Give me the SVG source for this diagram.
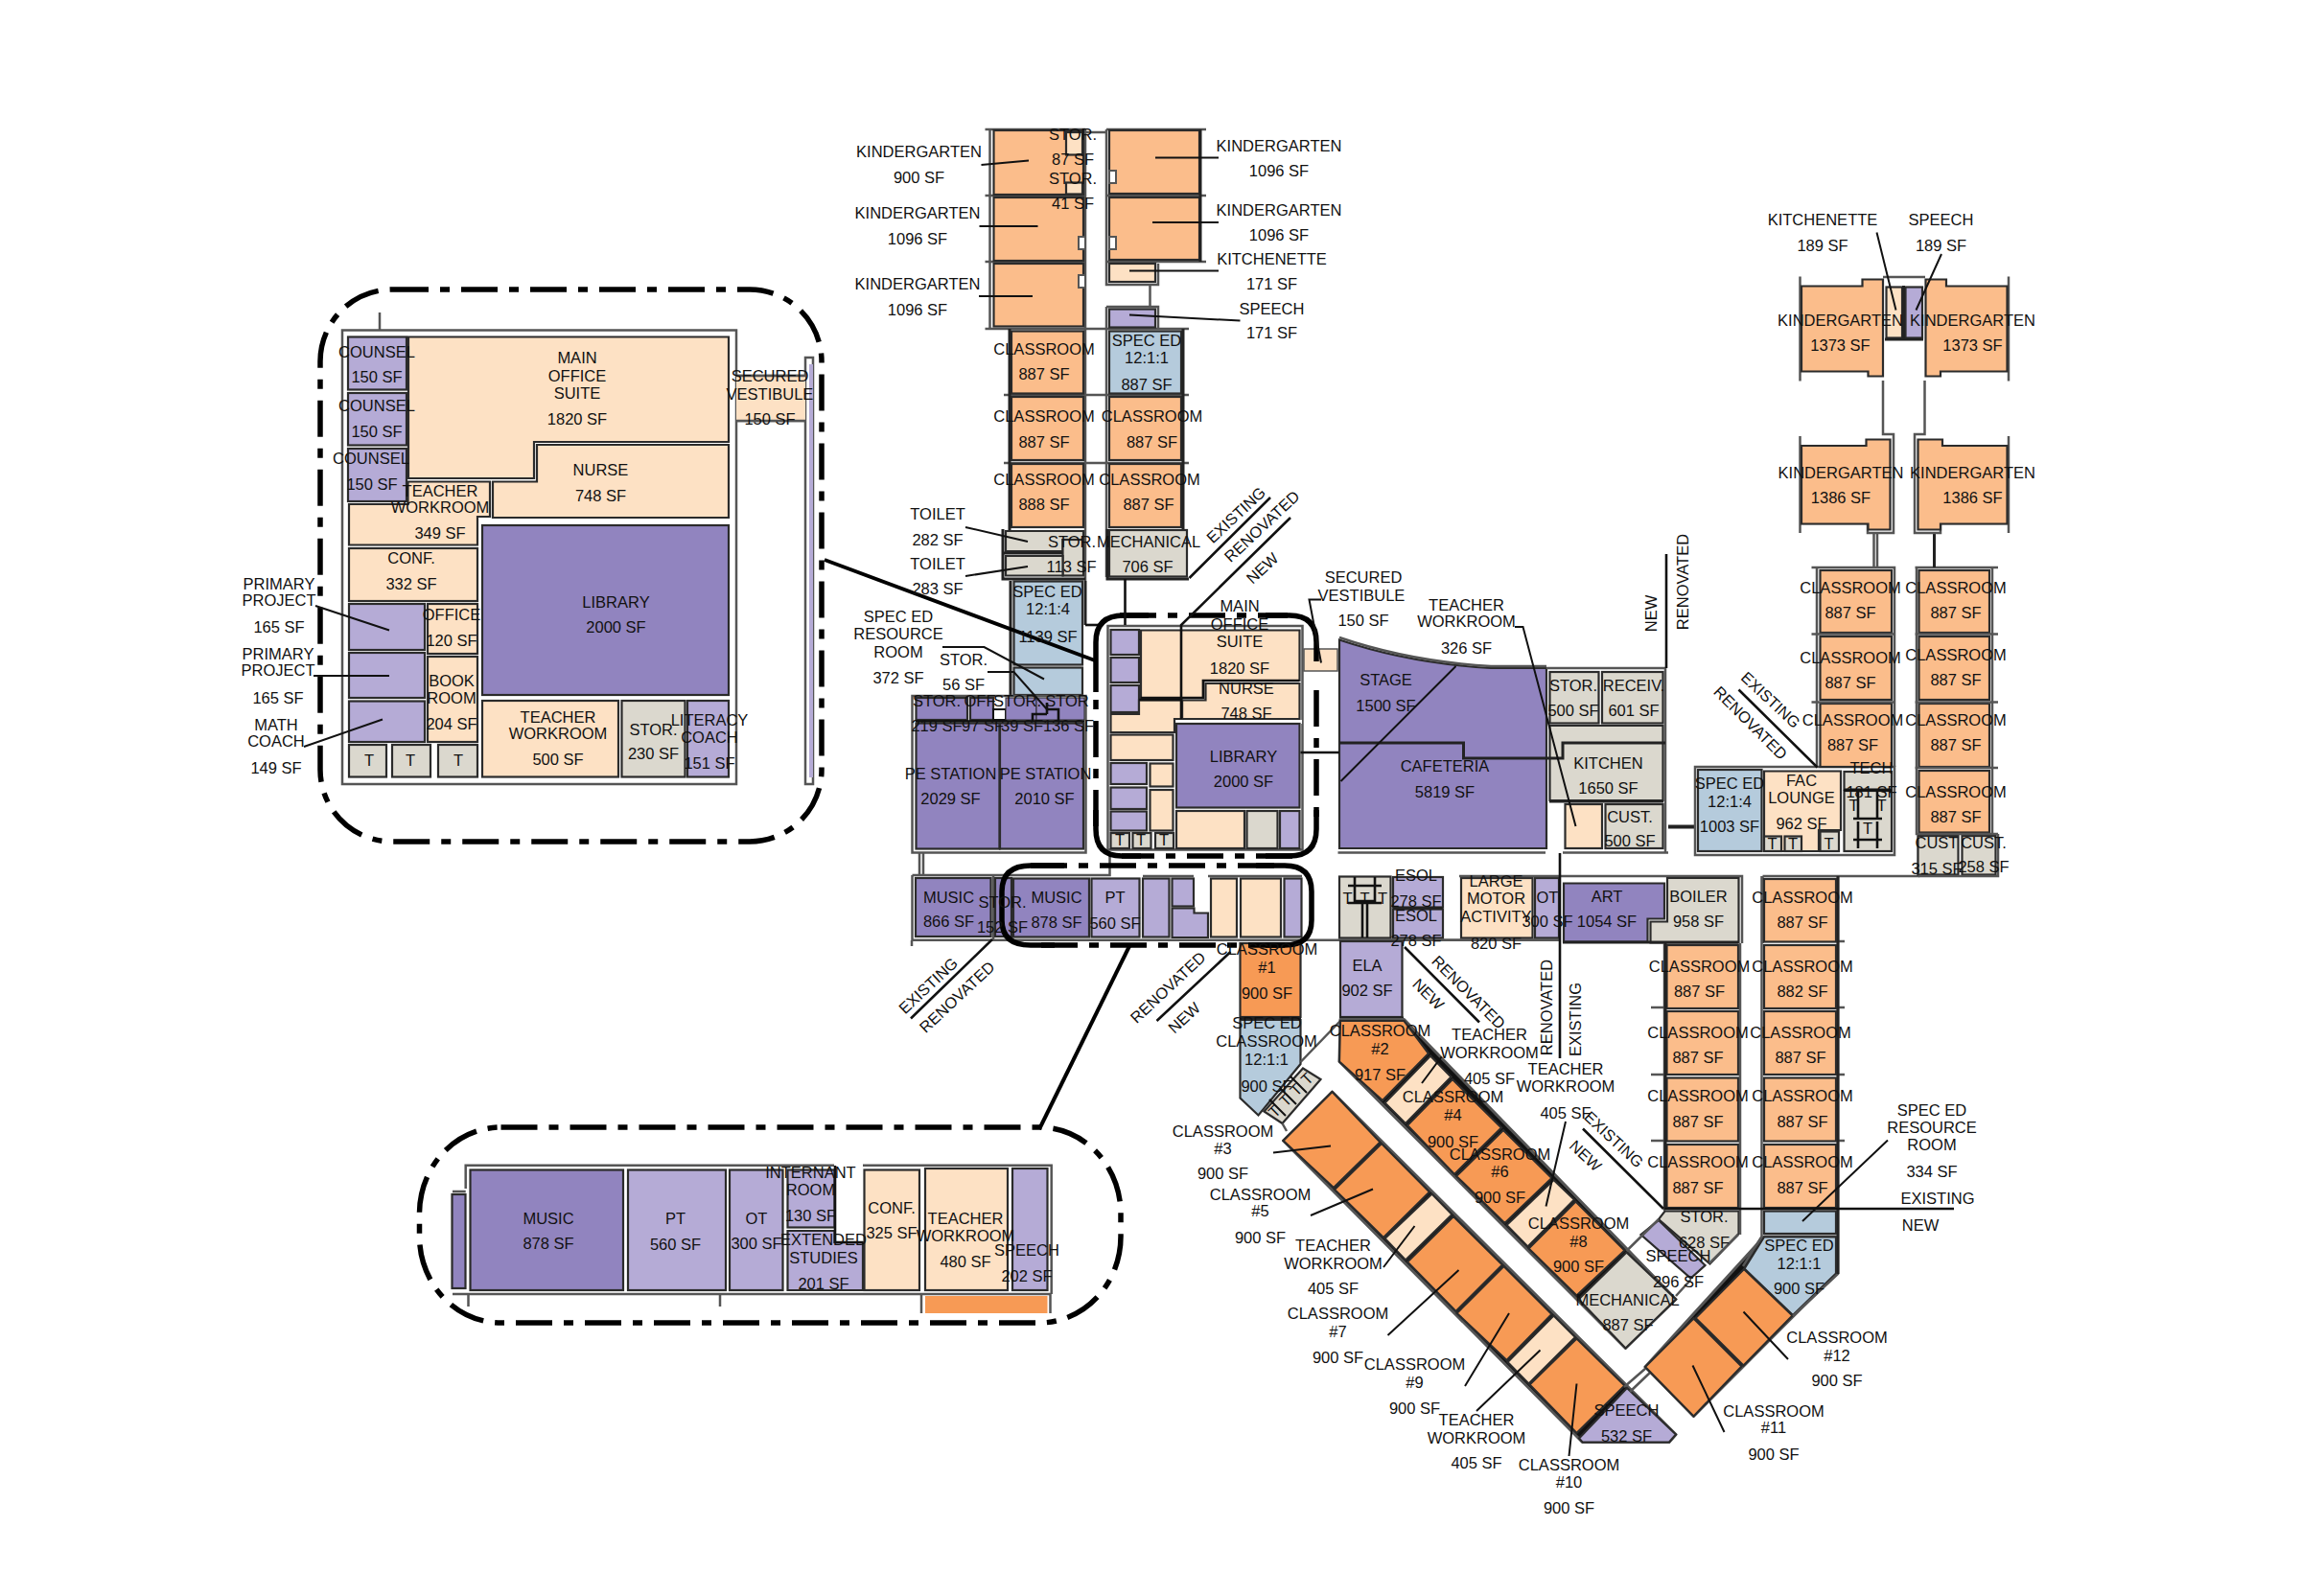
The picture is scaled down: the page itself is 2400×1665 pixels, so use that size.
<svg xmlns="http://www.w3.org/2000/svg" width="2400" height="1665" viewBox="0 0 2400 1665">
<style>
text{font-family:"Liberation Sans",Arial,sans-serif;font-size:16.5px;fill:#111;text-anchor:middle}
.k,.d,.p,.pd,.pl,.b,.g{stroke:#2b2b2b;stroke-width:2.2}
.k{fill:#FBBD8B}.d{fill:#F79A55}.p{fill:#FDE1C4}.pd{fill:#9184BF}.pl{fill:#B5ABD6}.b{fill:#B5CBDC}.g{fill:#DBD8CE}
.w{fill:none;stroke:#555;stroke-width:2.5}
.x{fill:none;stroke:#222;stroke-width:3}
.l{fill:none;stroke:#111;stroke-width:2}
.m{fill:none;stroke:#111;stroke-width:2.6}
.dash{fill:none;stroke:#000;stroke-width:5.5;stroke-dasharray:38 12 10 12}
.solid{fill:none;stroke:#000;stroke-width:5.5}
.hole{fill:#fff;stroke:#555;stroke-width:2}
.base{fill:#111;stroke:#555;stroke-width:3;stroke-linejoin:round}
</style>
<rect width="2400" height="1665" fill="#fff"/>

<g id="inset-main-office">
<rect class="dash" x="334" y="302" width="523" height="576" rx="75" ry="75"/>
<rect class="w" x="357" y="344.5" width="411" height="473.5"/>
<path class="w" d="M396 326V344.5M768 392H840M768 439H840M840 373H848V818H840Z"/>
<rect x="844" y="380" width="4" height="431" fill="#B5ABD6"/>
<rect class="pl" x="363" y="351.5" width="61" height="55"/>
<rect class="pl" x="363" y="410" width="61" height="54.5"/>
<rect class="pl" x="363" y="468" width="61" height="55"/>
<polygon class="p" points="426,351.5 760,351.5 760,461 557,461 557,499 426,499"/>
<polygon class="p" points="560,464 760,464 760,540 514,540 514,502.5 560,502.5"/>
<polygon class="p" points="364,526 425.5,526 425.5,502.5 511,502.5 511,539 498,539 498,568.5 364,568.5"/>
<rect class="p" x="364" y="572" width="134" height="55"/>
<rect class="pd" x="503" y="548" width="257" height="177"/>
<rect class="p" x="503" y="731" width="142" height="79.5"/>
<rect class="g" x="648.5" y="731" width="66" height="79.5"/>
<rect class="pl" x="717" y="731" width="43" height="79.5"/>
<rect class="pl" x="364" y="630" width="79" height="48"/>
<rect class="pl" x="364" y="681" width="79" height="47"/>
<rect class="pl" x="364" y="731.5" width="79" height="42.5"/>
<rect class="p" x="446" y="630" width="52" height="52"/>
<rect class="p" x="446" y="685" width="52" height="89"/>
<rect class="g" x="364" y="777" width="39" height="33.5"/>
<rect class="g" x="409" y="777" width="40" height="33.5"/>
<rect class="g" x="457" y="777" width="41" height="33.5"/>
<rect class="p" x="768" y="392" width="72" height="47" style="stroke:none"/>
<path class="w" d="M768 392H840M768 439H840"/>
<path class="l" d="M329 632L406 657.5M327 705H406M317 779L399 750.5"/>
<text x="393" y="373">COUNSEL</text><text x="393" y="399">150 SF</text>
<text x="393" y="429">COUNSEL</text><text x="393" y="455.5">150 SF</text>
<text x="387" y="484">COUNSEL</text><text x="388" y="510.5">150 SF</text>
<text x="602" y="379">MAIN</text><text x="602" y="397.5">OFFICE</text><text x="602" y="415.5">SUITE</text><text x="602" y="443">1820 SF</text>
<text x="626.5" y="496">NURSE</text><text x="626.5" y="523">748 SF</text>
<text x="459" y="517.5">TEACHER</text><text x="459" y="535">WORKROOM</text><text x="459" y="562">349 SF</text>
<text x="429" y="588">CONF.</text><text x="429" y="614.5">332 SF</text>
<text x="471" y="647">OFFICE</text><text x="471" y="674">120 SF</text>
<text x="471" y="715.5">BOOK</text><text x="471" y="733.5">ROOM</text><text x="471" y="761">204 SF</text>
<text x="642.5" y="634">LIBRARY</text><text x="642.5" y="660">2000 SF</text>
<text x="582" y="753.5">TEACHER</text><text x="582" y="771">WORKROOM</text><text x="582" y="798">500 SF</text>
<text x="681.5" y="766.5">STOR.</text><text x="681.5" y="792">230 SF</text>
<text x="740" y="757">LITERACY</text><text x="740" y="775">COACH</text><text x="740" y="802">151 SF</text>
<text x="385" y="799">T</text><text x="428" y="799">T</text><text x="478" y="799">T</text>
<text x="803" y="398">SECURED</text><text x="803" y="416.5">VESTIBULE</text><text x="803" y="443">150 SF</text>
<text x="291" y="614.5">PRIMARY</text><text x="291" y="632">PROJECT</text><text x="291" y="659.5">165 SF</text>
<text x="290" y="688">PRIMARY</text><text x="290" y="705">PROJECT</text><text x="290" y="734">165 SF</text>
<text x="288" y="761.5">MATH</text><text x="288" y="779">COACH</text><text x="288" y="806.5">149 SF</text>
</g>

<g id="inset-music-wing">
<rect class="dash" x="437.5" y="1176" width="731.5" height="204" rx="85" ry="90"/>
<path class="w" d="M472 1350H961V1370M961 1350H1096M1095.5 1350V1370M488.5 1350V1363M751 1350V1363M485.7 1240V1215.7H870M900 1215.7H1096.7V1350M472 1243H485.7"/>
<rect class="pd" x="471.5" y="1246" width="14" height="98"/>
<rect class="pd" x="490.5" y="1220.5" width="159.5" height="125.5"/>
<rect class="pl" x="655" y="1220.5" width="102" height="125.5"/>
<rect class="pl" x="761" y="1220.5" width="55.5" height="125.5"/>
<rect class="pl" x="821.5" y="1220.5" width="49" height="60"/>
<polygon class="pl" points="821.5,1284 870.5,1284 870.5,1296 900,1296 900,1346 821.5,1346"/>
<rect class="p" x="901.5" y="1220.5" width="57.5" height="125.5"/>
<rect class="p" x="965" y="1219" width="86" height="127"/>
<rect class="pl" x="1056" y="1219" width="36.5" height="127"/>
<rect class="d" x="965" y="1352" width="127.5" height="18" style="stroke-width:0"/>
<path class="m" d="M871 1216V1296H900"/>
<text x="572" y="1276.5">MUSIC</text><text x="572" y="1302.5">878 SF</text>
<text x="704.5" y="1277">PT</text><text x="704.5" y="1304">560 SF</text>
<text x="789" y="1277">OT</text><text x="789" y="1302.5">300 SF</text>
<text x="845.5" y="1229">INTERNANT</text><text x="845.5" y="1247">ROOM</text><text x="845.5" y="1274">130 SF</text>
<text x="859" y="1299">EXTENDED</text><text x="859" y="1317.5">STUDIES</text><text x="859" y="1345">201 SF</text>
<text x="930" y="1265.5">CONF.</text><text x="930" y="1291.5">325 SF</text>
<text x="1007" y="1276.5">TEACHER</text><text x="1007" y="1295">WORKROOM</text><text x="1007" y="1322">480 SF</text>
<text x="1071" y="1310">SPEECH</text><text x="1071" y="1336.5">202 SF</text>
</g>

<g id="north-wing">
<path class="w" d="M1027.5 135H1132M1027.5 204H1132M1027.5 273H1132M1027.5 343H1132M1032.5 135V343M1132 135V606M1132 138H1154M1154 135V297H1208V275M1154 320V602M1154 135H1258M1154 204H1258M1154 273H1258M1199.5 296V320M1154 320H1208V343M1047 343H1240M1047 412H1240M1047 483H1240"/>
<rect class="k" x="1036.5" y="136" width="93.5" height="67"/>
<rect class="k" x="1036.5" y="206" width="93.5" height="66"/>
<rect class="k" x="1036.5" y="275" width="93.5" height="65.5"/>
<rect class="p" x="1112" y="138" width="17" height="23.5"/>
<rect class="p" x="1112" y="190.5" width="17" height="12"/>
<rect class="k" x="1157" y="136" width="94" height="66"/>
<rect class="k" x="1157" y="206" width="94" height="65"/>
<rect class="hole" x="1125" y="247" width="7" height="13"/>
<rect class="hole" x="1125" y="287" width="7" height="13"/>
<rect class="hole" x="1157" y="178" width="7" height="13"/>
<rect class="hole" x="1157" y="247" width="7" height="13"/>
<rect class="p" x="1157" y="275" width="48" height="19"/>
<rect class="pl" x="1157" y="322.5" width="48" height="19"/>
<rect class="k" x="1055" y="345.5" width="75" height="65"/>
<rect class="k" x="1055" y="414" width="75" height="66"/>
<rect class="k" x="1055" y="484" width="75" height="66"/>
<rect class="b" x="1157" y="345.5" width="75" height="65"/>
<rect class="k" x="1157" y="414" width="75" height="66"/>
<rect class="k" x="1157" y="484" width="75" height="66"/>
<path class="x" d="M1252 135V273M1234 343V553M1053 343V553"/>
<rect class="g" x="1157" y="553" width="81" height="48.5"/>
<polygon class="g" points="1049,554 1130,554 1130,563 1108.5,563 1108.5,575 1049,575"/>
<rect class="g" x="1108.5" y="563" width="21.5" height="37.5"/>
<polygon class="g" points="1049,580 1108.5,580 1108.5,600.5 1049,600.5"/>
<path class="x" d="M1046 552V604H1132M1046 577H1108M1155 552V604H1240"/>
<rect class="b" x="1057.5" y="606.5" width="71.5" height="87"/>
<rect class="b" x="1057.5" y="696.5" width="71.5" height="28.5"/>
<path class="x" d="M1054 606V726M1132 606V652"/>
<path class="m" d="M1132 652H1146"/>
</g>

<g id="pe-music">
<path class="w" d="M951.5 726H1132.5V889.5H951.5ZM959 889.5V913M963 889.5V913M951.5 913H1157.5V893M951.5 913V981M951 981V987M1036 913V981"/>
<path class="w" d="M951 980.7H1627.5M1192 914H1245M1260 914H1358"/>
<rect class="pd" x="955.5" y="728" width="53.5" height="23"/>
<rect class="pd" x="1012" y="728" width="24" height="23"/>
<rect x="1036" y="740" width="13" height="11" fill="#fff" stroke="#111" stroke-width="2"/>
<rect class="pd" x="1049" y="728" width="32" height="23" style="stroke-width:1"/>
<rect class="pd" x="1081" y="728" width="50" height="23" style="stroke-width:1"/>
<path class="m" d="M955 752.5H1131M1077 752V745H1092M1092 745V733M1104 752V740H1092"/>
<rect class="pd" x="955.5" y="754.5" width="87" height="131"/>
<rect class="pd" x="1043" y="754.5" width="87" height="131"/>
<rect class="pd" x="955" y="916" width="78.5" height="61"/>
<rect class="pd" x="1038" y="916" width="17" height="61"/>
<rect class="pd" x="1057" y="916.5" width="79" height="61"/>
<rect class="pl" x="1138.5" y="916.5" width="50" height="61"/>
<rect class="pl" x="1192" y="916.5" width="27.5" height="61"/>
<rect class="pl" x="1222.5" y="916.5" width="22.5" height="29"/>
<polygon class="pl" points="1222.5,947.5 1245.5,947.5 1245.5,952.5 1260,952.5 1260,978 1222.5,978"/>
<rect class="p" x="1263" y="916.5" width="27" height="61"/>
<rect class="p" x="1294" y="916.5" width="42" height="61"/>
<rect class="pl" x="1339.5" y="916.5" width="18" height="61"/>
</g>

<g id="central-block">
<rect class="w" x="1155.5" y="653" width="203" height="233.5"/>
<rect class="pl" x="1158.5" y="657" width="29.5" height="26"/>
<rect class="pl" x="1158.5" y="686" width="29.5" height="26"/>
<rect class="pl" x="1158.5" y="715" width="29.5" height="28"/>
<polygon class="p" points="1190,657.5 1355.5,657.5 1355.5,710 1255,710 1255,728 1190,728"/>
<polygon class="p" points="1257.5,713 1355.5,713 1355.5,750 1233,750 1233,730.5 1257.5,730.5"/>
<text x="1300" y="750">748 SF</text>
<rect x="1225" y="751" width="133" height="4" fill="#fff"/>
<polygon class="p" points="1158.5,745 1188,745 1188,730.5 1233,730.5 1233,750 1225,750 1225,764 1158.5,764"/>
<rect class="p" x="1158.5" y="766.5" width="65" height="26.5"/>
<rect class="pd" x="1227" y="755" width="128.5" height="87.5"/>
<rect class="pl" x="1158.5" y="796" width="37.5" height="22"/>
<rect class="pl" x="1158.5" y="821.5" width="37.5" height="22.5"/>
<rect class="pl" x="1158.5" y="846.5" width="37.5" height="20"/>
<rect class="p" x="1199.5" y="796.5" width="24" height="24"/>
<rect class="p" x="1199.5" y="824" width="24" height="42.5"/>
<rect class="g" x="1158.5" y="869" width="19.5" height="16"/>
<rect class="g" x="1181.5" y="869" width="19" height="16"/>
<rect class="g" x="1205" y="869" width="19" height="16"/>
<rect class="p" x="1227" y="846" width="71" height="39"/>
<rect class="g" x="1300.5" y="846" width="32" height="39"/>
<rect class="pl" x="1335" y="846" width="20.5" height="39"/>
<path class="m" d="M1190 728H1255V710H1355M1188 730H1233"/>
</g>

<g id="assembly-service">
<rect x="1360" y="677" width="35" height="23" fill="#FDE1C4" stroke="#555" stroke-width="1.5"/>
<path class="pd" d="M1397 667.5Q1470 692 1555 697H1613V885H1397Z"/>
<path class="w" d="M1397 665Q1470 690 1555 695H1613M1613 697H1737V890M1395.5 889.5H1612M1630 889.5H1740"/>
<polygon class="g" points="1616.5,757 1734.5,757 1734.5,835 1616.5,835"/>
<rect class="g" x="1616.5" y="701" width="51" height="53.5"/>
<rect class="g" x="1671" y="701" width="63.5" height="53.5"/>
<rect class="p" x="1632.5" y="839" width="38.5" height="46"/>
<rect class="g" x="1674.5" y="839" width="60" height="46"/>
<path class="x" d="M1397 775H1526.5V791H1630V775H1737"/>
<path class="x" d="M1616 836H1735"/>
<path class="m" d="M1356.5 785H1397"/>
<path class="x" d="M1740 862.5H1768" style="stroke-width:4"/>
</g>

<g id="west-row">
<rect class="g" x="1397" y="914.5" width="53.5" height="64"/>
<path class="m" d="M1413 915V940H1434V915M1406 924H1441M1406 942H1441M1421 942V978M1426 942V978"/>
<rect class="pl" x="1453" y="915" width="52" height="31.5"/>
<rect class="pl" x="1453" y="948.5" width="52" height="30"/>
<path class="x" d="M1453 947.5H1505"/>
<rect class="p" x="1524" y="916" width="74.5" height="62.5"/>
<rect class="pl" x="1601" y="916" width="25" height="62.5"/>
<path class="w" d="M1522 914H1817V984M1838.5 914H1917.8H2001V872M1838.5 914V984"/>
<polygon class="pd" points="1631,921.5 1736,921.5 1736,958.5 1718.5,958.5 1718.5,982.5 1631,982.5"/>
<polygon class="g" points="1739,916 1813.5,916 1813.5,983.5 1721.5,983.5 1721.5,961.5 1739,961.5"/>
<path class="x" d="M1630 983H1813"/>
<path class="w" d="M1397 980.7H1627"/>
</g>

<g id="east-wing">
<rect class="w" x="1768" y="800" width="208" height="92"/>
<rect class="b" x="1771" y="803" width="66.5" height="85"/>
<polygon class="p" points="1840,804.5 1920,804.5 1920,866 1897,866 1897,888 1840,888"/>
<rect class="g" x="1840" y="872.5" width="18" height="15.5"/>
<rect class="g" x="1861.5" y="872.5" width="17.5" height="15.5"/>
<rect class="g" x="1898.5" y="867.5" width="19.5" height="20.5"/>
<rect class="g" x="1923.5" y="805" width="49.5" height="18.5"/>
<rect class="g" x="1923.5" y="825" width="49.5" height="63"/>
<path class="m" d="M1923 824.5H1973M1938 857V885M1958 857V885M1933 854H1963M1933 876H1963M1938 825V854M1958 825V854"/>
<rect class="k" x="1898.5" y="595" width="74.5" height="65"/>
<rect class="k" x="1898.5" y="664" width="74.5" height="66"/>
<rect class="k" x="1898.5" y="734" width="74.5" height="66"/>
<rect class="k" x="2001.5" y="595" width="73.5" height="65"/>
<rect class="k" x="2001.5" y="664" width="73.5" height="66"/>
<rect class="k" x="2001.5" y="734" width="73.5" height="66"/>
<rect class="k" x="2001.5" y="804" width="73.5" height="64.5"/>
<rect class="g" x="2000.5" y="872" width="42" height="40.5"/>
<rect class="g" x="2046.5" y="872" width="35" height="40.5"/>
<path class="w" d="M1889.5 592H1976V800M1895 592V800M1997.5 592H2084M1997.5 661.5H2084M1997.5 732.5H2084M1997.5 801H2084M1889.5 661.5H1976M1889.5 732.5H1976M1999 592V870H2084M2078 592V870M2084 870V914H2001"/>
<path class="w" d="M1954.5 556V592M1958 556V592"/>
<path class="x" d="M2017.5 556V592"/>
<path class="w" d="M1877.5 288.5V397.5M2095 288.5V397.5M1877.5 455V556M2095 455V556M1964 397V453H1975V556H1948V546H1877.5M2007.5 397V453H1997V556H2024V546H2095M1964 289H2008"/>
<polygon class="k" points="1879,298.5 1942.5,298.5 1942.5,291.5 1964,291.5 1964,392.5 1948.5,392.5 1948.5,387.5 1879,387.5"/>
<polygon class="k" points="2093.5,298.5 2030,298.5 2030,291.5 2008.5,291.5 2008.5,392.5 2024,392.5 2024,387.5 2093.5,387.5"/>
<rect class="p" x="1967.5" y="299.5" width="16.5" height="53"/>
<rect class="pl" x="1987.5" y="299.5" width="17.5" height="53"/>
<path class="x" d="M1966 354H2006M1985.5 298V354"/>
<polygon class="k" points="1879,465 1946.5,465 1946.5,458.5 1971.5,458.5 1971.5,552.5 1948.5,552.5 1948.5,546.5 1879,546.5"/>
<polygon class="k" points="2093.5,465 2026,465 2026,458.5 2000.5,458.5 2000.5,552.5 2024,552.5 2024,546.5 2093.5,546.5"/>
</g>

<g id="south-wings">
<rect class="d" x="1293.5" y="984" width="63" height="77"/>
<polygon class="b" points="1293.5,1064 1356.5,1064 1356.5,1110 1312.5,1163.5 1293.5,1145.5"/>
<polygon class="g" points="1359,1114.5 1377.5,1126 1337.5,1172 1318.5,1159.5"/>
<path class="l" d="M1346 1123L1363 1140M1335 1135L1352 1152M1324 1147L1341 1164"/>
<rect class="pl" x="1398" y="982" width="64.5" height="79"/>
<path class="x" d="M1293 1062H1357M1397.5 1062H1464"/>
<path class="w" d="M1356.5 1108L1398 1065M1337.5 1172L1342 1180"/>

<polygon class="base" points="1389.5,1139 1748,1496.5 1741,1504.5 1650.5,1504.5 1338.5,1190"/>
<polygon class="d" points="1389.5,1139 1439.5,1191.5 1391,1239 1338.5,1190"/>
<polygon class="d" points="1441,1193 1491,1243.5 1443,1291 1392,1241"/>
<polygon class="p" points="1493.5,1245.5 1514.5,1267 1466,1314.5 1444.5,1292"/>
<polygon class="d" points="1516,1269 1567,1319.5 1518.5,1368 1468,1316.5"/>
<polygon class="d" points="1568.5,1321 1618.5,1371 1571.5,1419 1519.5,1370"/>
<polygon class="p" points="1620.5,1372.5 1643,1395 1594.5,1443.5 1572.5,1421"/>
<polygon class="d" points="1644.5,1396.5 1694.5,1445.5 1644.5,1495 1595.5,1444.5"/>
<polygon class="pl" points="1697,1448 1748,1496.5 1741,1504.5 1650.5,1504.5 1647,1500.5"/>

<polygon class="base" points="1398,1063.5 1464.5,1063.5 1748,1355.5 1695.5,1406.5 1397,1107.5"/>
<polygon class="d" points="1398,1065 1464.5,1065 1490,1099 1442,1148 1397,1107.5"/>
<polygon class="p" points="1492,1101.5 1513.5,1123.5 1466,1172 1444.5,1150.5"/>
<polygon class="d" points="1515,1126 1566,1176.5 1517,1225 1468,1174"/>
<polygon class="d" points="1568,1179 1618.5,1229 1569.5,1276 1519,1227"/>
<polygon class="p" points="1620.5,1231 1642,1251.5 1593.5,1300.5 1571.5,1278"/>
<polygon class="d" points="1643.5,1253.5 1694.5,1304.5 1644.5,1351.5 1594.5,1302.5"/>
<polygon class="g" points="1696.5,1306.5 1748,1355.5 1695.5,1406.5 1646.5,1355.5"/>

<polygon class="g" points="1736.5,1263.5 1813.5,1263.5 1813.5,1287 1783.5,1318.5 1730,1272"/>
<polygon class="pl" points="1730,1273 1778.5,1320 1763.5,1333.5 1711.5,1288"/>
<path class="w" d="M1696.5 1305L1730 1272M1748 1352L1763.5 1335M1694 1447L1717 1427M1700 1452L1722 1431M1815 1263V1288"/>

<rect class="k" x="1738.5" y="986" width="74.5" height="66"/>
<rect class="k" x="1738.5" y="1055" width="74.5" height="66"/>
<rect class="k" x="1738.5" y="1124.5" width="74.5" height="66"/>
<rect class="k" x="1738.5" y="1194" width="74.5" height="66"/>
<rect class="k" x="1840" y="917" width="75" height="65.5"/>
<rect class="k" x="1840" y="986" width="75" height="66"/>
<rect class="k" x="1840" y="1055" width="75" height="66"/>
<rect class="k" x="1840" y="1124.5" width="75" height="66"/>
<rect class="k" x="1840" y="1194" width="75" height="66"/>
<rect class="b" x="1840" y="1263.5" width="75" height="23.5"/>
<polygon class="base" points="1840,1290 1915,1290 1915,1328.5 1766.5,1477.5 1716,1426"/>
<polygon class="b" points="1840,1290.5 1915,1290.5 1915,1328.5 1870,1372 1819.5,1323.5"/>
<polygon class="d" points="1819,1324 1869.5,1372.5 1818.5,1424.5 1768.5,1375"/>
<polygon class="d" points="1766.5,1375.5 1816.5,1425.5 1766.5,1477.5 1716,1426"/>
<path class="w" d="M1736 984V1263M1815 984V1263M1837.5 914V1290L1818 1321M1917 914V1329L1870 1373M1722 1051H1736M1722 1121H1736M1722 1190H1736M1916 982H1924M1916 1051H1924M1916 1121H1924M1916 1190H1924M1813 1288L1783 1318"/>
<path class="x" d="M1917 914V1329M1737 984V1262"/>
</g>

<g id="connectors">
<path class="dash" d="M1168 642H1343M1373 720V862M1348 893H1170M1143 862V720"/>
<path class="solid" d="M1143 722V670Q1143 642 1172 642H1198M1320 642H1345Q1373 642 1373 670V690M1373 845V865Q1373 893 1345 893H1320M1190 893H1170Q1143 893 1143 865V845"/>
<path class="dash" d="M1075 903H1340M1340 986H1075"/>
<path class="solid" d="M1110 903H1075Q1045 903 1045 930V960Q1045 986 1075 986H1100M1310 903H1340Q1368 903 1368 930V960Q1368 986 1340 986H1320"/>
<path class="solid" d="M860 584L1142 689" style="stroke-width:4"/>
<path class="solid" d="M1178 987L1084 1178" style="stroke-width:4"/>
<path class="l" d="M1023.5 172L1073 167.5M1021.5 236H1082.5M1021 309H1077M1205 164.5H1271M1202 232H1271M1178 282.5H1271M1178 328.5L1293.5 334.5"/>
<path class="l" d="M1007 550L1072 565M1007 601L1072 591M983 675H1026.5L1089 708.5M1030 701H1057.5L1092 740"/>
<path class="m" d="M1240.5 603L1325 519M1346 540L1232 652V750M1173.5 604V652"/>
<path class="l" d="M1378 625.5H1365.5L1378 691.5M1580 654H1588.5L1643.5 862M1518.5 695L1398.5 815"/>
<path class="m" d="M1738 578V697M1627 890V1104M1813.5 719.5L1895.5 800.5"/>
<path class="l" d="M1957.5 242.5L1977.5 323.5M2025 265L1998.5 323.5"/>
<path class="m" d="M950 1062.5L1035 980M1206.5 1065L1283.5 993M1465 988L1543 1066.5M1651 1177.5L1735 1261M1736.5 1261H2038"/>
<path class="l" d="M1880 1274L1969 1189.5M1818.5 1368.5L1865 1418M1765.5 1424.5L1798.5 1494"/>
<path class="l" d="M1328 1202.5L1388 1195.5M1367 1268L1432 1240.5M1443 1322L1475.5 1279M1447.5 1393L1521.5 1325M1528 1446L1574 1370M1540 1472L1606.5 1408.5M1636.5 1519L1644.5 1443.5M1503.5 1102.5L1483 1130M1633 1170L1612.5 1258.5"/>
</g>

<g id="labels">
<text x="958.5" y="164">KINDERGARTEN</text><text x="958.5" y="191">900 SF</text>
<text x="957" y="228">KINDERGARTEN</text><text x="957" y="255">1096 SF</text>
<text x="957" y="302">KINDERGARTEN</text><text x="957" y="328.5">1096 SF</text>
<text x="1334" y="157.5">KINDERGARTEN</text><text x="1334" y="184">1096 SF</text>
<text x="1334" y="225">KINDERGARTEN</text><text x="1334" y="251">1096 SF</text>
<text x="1326.5" y="276">KITCHENETTE</text><text x="1326.5" y="302">171 SF</text>
<text x="1326.5" y="327.5">SPEECH</text><text x="1326.5" y="353">171 SF</text>
<text x="1119" y="145.5">STOR.</text><text x="1119" y="172">87 SF</text>
<text x="1119" y="192">STOR.</text><text x="1119" y="217.5">41 SF</text>
<text x="1089" y="370">CLASSROOM</text><text x="1089" y="396">887 SF</text>
<text x="1089" y="440">CLASSROOM</text><text x="1089" y="467">887 SF</text>
<text x="1089" y="505.5">CLASSROOM</text><text x="1089" y="532">888 SF</text>
<text x="1196" y="360.5">SPEC ED</text><text x="1196" y="379">12:1:1</text><text x="1196" y="406.5">887 SF</text>
<text x="1201.5" y="440">CLASSROOM</text><text x="1201.5" y="467">887 SF</text>
<text x="1199" y="505.5">CLASSROOM</text><text x="1198" y="532">887 SF</text>
<text x="978" y="542">TOILET</text><text x="978" y="569">282 SF</text>
<text x="978" y="593.5">TOILET</text><text x="978" y="620">283 SF</text>
<text x="1118" y="571">STOR.</text><text x="1117.5" y="597">113 SF</text>
<text x="1198" y="571">MECHANICAL</text><text x="1197" y="597">706 SF</text>
<text x="1092.5" y="623">SPEC ED</text><text x="1093" y="641">12:1:4</text><text x="1093" y="669.5">1139 SF</text>
<text x="937" y="649">SPEC ED</text><text x="937" y="667">RESOURCE</text><text x="937" y="685.5">ROOM</text><text x="937" y="713">372 SF</text>
<text x="1005" y="694">STOR.</text><text x="1005" y="720">56 SF</text>
<text transform="rotate(-43 1289 537)" x="1289" y="543">EXISTING</text>
<text transform="rotate(-43 1316 549)" x="1316" y="555">RENOVATED</text>
<text transform="rotate(-43 1316.5 592.5)" x="1316.5" y="598.5">NEW</text>
<text x="977" y="736.5">STOR.</text><text x="977" y="763">219 SF</text>
<text x="1022" y="736.5">OFF</text><text x="1025" y="763">97 SF</text>
<text x="1061" y="736.5">STOR.</text><text x="1066" y="763">39 SF</text>
<text x="1113" y="736.5">STOR</text><text x="1114.5" y="763">136 SF</text>
<text x="991.5" y="812.5">PE STATION</text><text x="991.5" y="839">2029 SF</text>
<text x="1090.5" y="812.5">PE STATION</text><text x="1089.5" y="839">2010 SF</text>
<text x="989.5" y="941.5">MUSIC</text><text x="989.5" y="967">866 SF</text>
<text x="1045.5" y="946.5">STOR.</text><text x="1045.5" y="973">152 SF</text>
<text x="1102" y="941.5">MUSIC</text><text x="1102" y="967.5">878 SF</text>
<text x="1163" y="941.5">PT</text><text x="1163" y="968.5">560 SF</text>
<text x="1293" y="638">MAIN</text><text x="1293" y="656.5">OFFICE</text><text x="1293" y="675">SUITE</text><text x="1293" y="703">1820 SF</text>
<text x="1300" y="724">NURSE</text>
<text x="1297" y="795">LIBRARY</text><text x="1297" y="821">2000 SF</text>
<text x="1168" y="882">T</text><text x="1190" y="882">T</text><text x="1214" y="882">T</text>
<text x="1422" y="608">SECURED</text><text x="1420" y="626.5">VESTIBULE</text><text x="1422" y="653">150 SF</text>
<text x="1529.5" y="636.5">TEACHER</text><text x="1529.5" y="654">WORKROOM</text><text x="1529.5" y="681.5">326 SF</text>
<text x="1445.5" y="715">STAGE</text><text x="1445.5" y="741.5">1500 SF</text>
<text x="1507" y="805">CAFETERIA</text><text x="1507" y="831.5">5819 SF</text>
<text x="1641" y="721">STOR.</text><text x="1641" y="747">500 SF</text>
<text x="1704" y="721">RECEIV.</text><text x="1704" y="747">601 SF</text>
<text x="1677.5" y="801.5">KITCHEN</text><text x="1677.5" y="828">1650 SF</text>
<text x="1700" y="857.5">CUST.</text><text x="1700" y="883">500 SF</text>
<text transform="rotate(-90 1722 640)" x="1722" y="646">NEW</text>
<text transform="rotate(-90 1755 607)" x="1755" y="613">RENOVATED</text>
<text x="1804" y="823">SPEC ED</text><text x="1804" y="841.5">12:1:4</text><text x="1804" y="868">1003 SF</text>
<text x="1879" y="820">FAC</text><text x="1879" y="838">LOUNGE</text><text x="1879" y="865">962 SF</text>
<text x="1952" y="806.5">TECH</text><text x="1952" y="831.5">181 SF</text>
<text x="1933.5" y="846">T</text><text x="1962.5" y="846">T</text><text x="1948" y="870">T</text>
<text x="1848.5" y="886">T</text><text x="1870" y="886">T</text><text x="1907.5" y="886">T</text>
<text x="1930" y="619">CLASSROOM</text><text x="1930" y="645">887 SF</text>
<text x="1930" y="692">CLASSROOM</text><text x="1930" y="718">887 SF</text>
<text x="1932.5" y="756.5">CLASSROOM</text><text x="1932.5" y="783">887 SF</text>
<text x="2040" y="619">CLASSROOM</text><text x="2040" y="645">887 SF</text>
<text x="2040" y="689">CLASSROOM</text><text x="2040" y="715">887 SF</text>
<text x="2040" y="756.5">CLASSROOM</text><text x="2040" y="783">887 SF</text>
<text x="2040" y="831.5">CLASSROOM</text><text x="2040" y="858">887 SF</text>
<text x="2020" y="885">CUST</text><text x="2020" y="911.5">315 SF</text>
<text x="2069" y="885">CUST.</text><text x="2069" y="910">258 SF</text>
<text transform="rotate(43 1847 730)" x="1847" y="736">EXISTING</text>
<text transform="rotate(45 1826 754)" x="1826" y="760">RENOVATED</text>
<text x="1919.5" y="340">KINDERGARTEN</text><text x="1919.5" y="366">1373 SF</text>
<text x="2057.5" y="340">KINDERGARTEN</text><text x="2057.5" y="366">1373 SF</text>
<text x="1920" y="498.5">KINDERGARTEN</text><text x="1920" y="525">1386 SF</text>
<text x="2057.5" y="498.5">KINDERGARTEN</text><text x="2057.5" y="525">1386 SF</text>
<text x="1901" y="234.5">KITCHENETTE</text><text x="1901" y="261.5">189 SF</text>
<text x="2024.5" y="234.5">SPEECH</text><text x="2024.5" y="261.5">189 SF</text>
<text x="1405.5" y="942.5">T</text><text x="1423.5" y="942.5">T</text><text x="1442" y="942.5">T</text>
<text x="1477" y="919">ESOL</text><text x="1477" y="946">278 SF</text><text x="1477" y="960.5">ESOL</text><text x="1477" y="986.5">278 SF</text>
<text x="1560.5" y="925">LARGE</text><text x="1560.5" y="943">MOTOR</text><text x="1560.5" y="962">ACTIVITY</text><text x="1560.5" y="990">820 SF</text>
<text x="1614" y="941.5">OT</text><text x="1614" y="967">300 SF</text>
<text x="1676" y="941">ART</text><text x="1676" y="967">1054 SF</text>
<text x="1771.5" y="941">BOILER</text><text x="1771.5" y="967">958 SF</text>
<text x="1880" y="942">CLASSROOM</text><text x="1880" y="968">887 SF</text>
<text x="1880" y="1013.5">CLASSROOM</text><text x="1880" y="1039.5">882 SF</text>
<text x="1878" y="1083">CLASSROOM</text><text x="1878" y="1109">887 SF</text>
<text x="1880" y="1148.5">CLASSROOM</text><text x="1880" y="1175.5">887 SF</text>
<text x="1880" y="1218">CLASSROOM</text><text x="1880" y="1244.5">887 SF</text>
<text x="1772.5" y="1013.5">CLASSROOM</text><text x="1772.5" y="1039.5">887 SF</text>
<text x="1771" y="1083">CLASSROOM</text><text x="1771" y="1109">887 SF</text>
<text x="1771" y="1148.5">CLASSROOM</text><text x="1771" y="1175.5">887 SF</text>
<text x="1771" y="1218">CLASSROOM</text><text x="1771" y="1244.5">887 SF</text>
<text x="1777.5" y="1275">STOR.</text><text x="1777.5" y="1302">628 SF</text>
<text x="1750.5" y="1316">SPEECH</text><text x="1750.5" y="1343">296 SF</text>
<text x="1697.5" y="1362">MECHANICAL</text><text x="1698" y="1388">887 SF</text>
<text x="1876.5" y="1304.5">SPEC ED</text><text x="1876.5" y="1323.5">12:1:1</text><text x="1876.5" y="1350">900 SF</text>
<text x="2015" y="1163.5">SPEC ED</text><text x="2015" y="1182">RESOURCE</text><text x="2015" y="1200">ROOM</text><text x="2015" y="1227.5">334 SF</text>
<text x="2021" y="1255.5">EXISTING</text><text x="2003" y="1284">NEW</text>
<text x="1916" y="1401">CLASSROOM</text><text x="1916" y="1419.5">#12</text><text x="1916" y="1445.5">900 SF</text>
<text x="1850" y="1477.5">CLASSROOM</text><text x="1850" y="1495">#11</text><text x="1850" y="1522.5">900 SF</text>
<text transform="rotate(43 1683.5 1188.5)" x="1683.5" y="1194.5">EXISTING</text>
<text transform="rotate(43 1654 1205.5)" x="1654" y="1211.5">NEW</text>
<text transform="rotate(-90 1613 1051)" x="1613" y="1057">RENOVATED</text>
<text transform="rotate(-90 1643 1063.5)" x="1643" y="1069.5">EXISTING</text>
<text transform="rotate(45 1532 1035)" x="1532" y="1041">RENOVATED</text>
<text transform="rotate(45 1490 1037)" x="1490" y="1043">NEW</text>
<text transform="rotate(-43 1218 1030)" x="1218" y="1036">RENOVATED</text>
<text transform="rotate(-43 1235 1061.5)" x="1235" y="1067.5">NEW</text>
<text transform="rotate(-43 968 1028)" x="968" y="1034">EXISTING</text>
<text transform="rotate(-43 998 1040)" x="998" y="1046">RENOVATED</text>
<text x="1321.5" y="996">CLASSROOM</text><text x="1321.5" y="1014.5">#1</text><text x="1321.5" y="1042">900 SF</text>
<text x="1321.5" y="1073">SPEC ED</text><text x="1321" y="1092">CLASSROOM</text><text x="1321" y="1110.5">12:1:1</text><text x="1321" y="1138.5">900 SF</text>
<text transform="rotate(-45 1363.5 1125.5)" x="1363.5" y="1131">T</text>
<text transform="rotate(-45 1352 1137)" x="1352" y="1142.5">T</text>
<text transform="rotate(-45 1341 1148)" x="1341" y="1153.5">T</text>
<text transform="rotate(-45 1329.5 1159.5)" x="1329.5" y="1165">T</text>
<text x="1426" y="1012.5">ELA</text><text x="1426" y="1039">902 SF</text>
<text x="1439.5" y="1081">CLASSROOM</text><text x="1439.5" y="1099.5">#2</text><text x="1439.5" y="1127">917 SF</text>
<text x="1553.5" y="1085">TEACHER</text><text x="1553.5" y="1103.5">WORKROOM</text><text x="1553.5" y="1131">405 SF</text>
<text x="1633" y="1121">TEACHER</text><text x="1633" y="1138.5">WORKROOM</text><text x="1633" y="1167">405 SF</text>
<text x="1515.5" y="1150">CLASSROOM</text><text x="1515.5" y="1168.5">#4</text><text x="1515.5" y="1196.5">900 SF</text>
<text x="1564.5" y="1209.5">CLASSROOM</text><text x="1564.5" y="1227.5">#6</text><text x="1564.5" y="1254.5">900 SF</text>
<text x="1646.5" y="1282">CLASSROOM</text><text x="1646.5" y="1300.5">#8</text><text x="1646.5" y="1327">900 SF</text>
<text x="1696.5" y="1477">SPEECH</text><text x="1696.5" y="1503.5">532 SF</text>
<text x="1275.5" y="1186">CLASSROOM</text><text x="1275.5" y="1203.5">#3</text><text x="1275.5" y="1230">900 SF</text>
<text x="1314.5" y="1251.5">CLASSROOM</text><text x="1314.5" y="1269">#5</text><text x="1314.5" y="1296.5">900 SF</text>
<text x="1390.5" y="1305">TEACHER</text><text x="1390.5" y="1323.5">WORKROOM</text><text x="1390.5" y="1350">405 SF</text>
<text x="1395.5" y="1376">CLASSROOM</text><text x="1395.5" y="1394.5">#7</text><text x="1395.5" y="1421.5">900 SF</text>
<text x="1475.5" y="1429">CLASSROOM</text><text x="1475.5" y="1447.5">#9</text><text x="1475.5" y="1474.5">900 SF</text>
<text x="1540" y="1487">TEACHER</text><text x="1540" y="1505.5">WORKROOM</text><text x="1540" y="1532">405 SF</text>
<text x="1636.5" y="1534">CLASSROOM</text><text x="1636.5" y="1551.5">#10</text><text x="1636.5" y="1579">900 SF</text>
</g>
</svg>
